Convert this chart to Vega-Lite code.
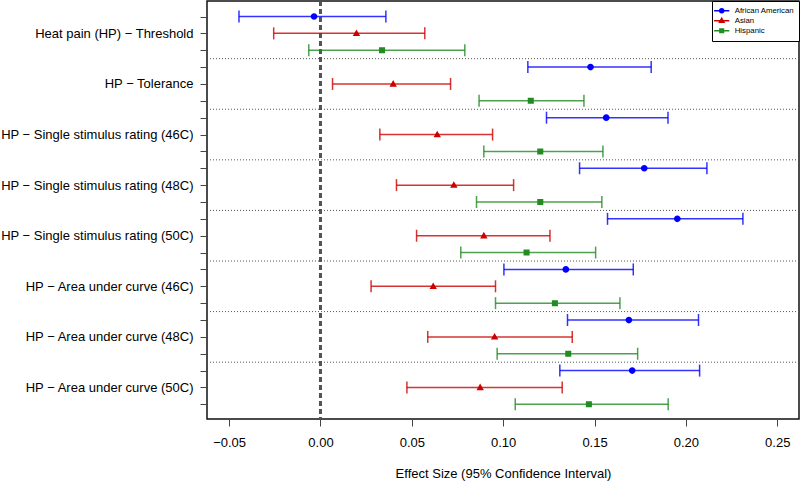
{
  "$schema": "https://vega.github.io/schema/vega-lite/v6.json",
  "width": 592,
  "height": 418,
  "autosize": {"type": "none"},
  "padding": {"left": 207, "top": 1, "right": 1, "bottom": 62},
  "config": {"view": {"stroke": "#111", "strokeWidth": 1.5}, "font": "Liberation Sans"},
  "datasets": {
    "est": [
      {"row": 1, "measure": "Heat pain (HP) − Threshold", "group": "African American", "est": -0.0035, "lo": -0.0446, "hi": 0.0358},
      {"row": 2, "measure": "Heat pain (HP) − Threshold", "group": "Asian", "est": 0.0197, "lo": -0.0256, "hi": 0.0571},
      {"row": 3, "measure": "Heat pain (HP) − Threshold", "group": "Hispanic", "est": 0.0337, "lo": -0.0064, "hi": 0.0790},
      {"row": 4, "measure": "HP − Tolerance", "group": "African American", "est": 0.1478, "lo": 0.1135, "hi": 0.1810},
      {"row": 5, "measure": "HP − Tolerance", "group": "Asian", "est": 0.0398, "lo": 0.0066, "hi": 0.0712},
      {"row": 6, "measure": "HP − Tolerance", "group": "Hispanic", "est": 0.1151, "lo": 0.0868, "hi": 0.1442},
      {"row": 7, "measure": "HP − Single stimulus rating (46C)", "group": "African American", "est": 0.1564, "lo": 0.1237, "hi": 0.1902},
      {"row": 8, "measure": "HP − Single stimulus rating (46C)", "group": "Asian", "est": 0.0639, "lo": 0.0325, "hi": 0.0942},
      {"row": 9, "measure": "HP − Single stimulus rating (46C)", "group": "Hispanic", "est": 0.1203, "lo": 0.0894, "hi": 0.1546},
      {"row": 10, "measure": "HP − Single stimulus rating (48C)", "group": "African American", "est": 0.1772, "lo": 0.1418, "hi": 0.2115},
      {"row": 11, "measure": "HP − Single stimulus rating (48C)", "group": "Asian", "est": 0.0730, "lo": 0.0416, "hi": 0.1057},
      {"row": 12, "measure": "HP − Single stimulus rating (48C)", "group": "Hispanic", "est": 0.1203, "lo": 0.0854, "hi": 0.1540},
      {"row": 13, "measure": "HP − Single stimulus rating (50C)", "group": "African American", "est": 0.1953, "lo": 0.1571, "hi": 0.2312},
      {"row": 14, "measure": "HP − Single stimulus rating (50C)", "group": "Asian", "est": 0.0894, "lo": 0.0526, "hi": 0.1256},
      {"row": 15, "measure": "HP − Single stimulus rating (50C)", "group": "Hispanic", "est": 0.1128, "lo": 0.0768, "hi": 0.1506},
      {"row": 16, "measure": "HP − Area under curve (46C)", "group": "African American", "est": 0.1343, "lo": 0.1004, "hi": 0.1712},
      {"row": 17, "measure": "HP − Area under curve (46C)", "group": "Asian", "est": 0.0617, "lo": 0.0277, "hi": 0.0958},
      {"row": 18, "measure": "HP − Area under curve (46C)", "group": "Hispanic", "est": 0.1283, "lo": 0.0958, "hi": 0.1639},
      {"row": 19, "measure": "HP − Area under curve (48C)", "group": "African American", "est": 0.1688, "lo": 0.1352, "hi": 0.2069},
      {"row": 20, "measure": "HP − Area under curve (48C)", "group": "Asian", "est": 0.0953, "lo": 0.0587, "hi": 0.1378},
      {"row": 21, "measure": "HP − Area under curve (48C)", "group": "Hispanic", "est": 0.1356, "lo": 0.0967, "hi": 0.1736},
      {"row": 22, "measure": "HP − Area under curve (50C)", "group": "African American", "est": 0.1706, "lo": 0.1310, "hi": 0.2075},
      {"row": 23, "measure": "HP − Area under curve (50C)", "group": "Asian", "est": 0.0874, "lo": 0.0473, "hi": 0.1323},
      {"row": 24, "measure": "HP − Area under curve (50C)", "group": "Hispanic", "est": 0.1469, "lo": 0.1066, "hi": 0.1903}
    ],
    "seps": [{"row": 3.5}, {"row": 6.5}, {"row": 9.5}, {"row": 12.5}, {"row": 15.5}, {"row": 18.5}, {"row": 21.5}]
  },
  "data": {"name": "est"},
  "layer": [
    {
      "data": {"name": "seps"},
      "mark": {"type": "rule", "strokeDash": [1, 2], "color": "#555", "strokeWidth": 1},
      "encoding": {
        "y": {
          "field": "row", "type": "quantitative",
          "scale": {"domain": [0.08, 24.87], "reverse": true, "nice": false, "zero": false},
          "axis": {
            "values": [1, 2, 3, 4, 5, 6, 7, 8, 9, 10, 11, 12, 13, 14, 15, 16, 17, 18, 19, 20, 21, 22, 23, 24],
            "tickCount": 30,
            "title": null, "domain": false, "grid": false, "tickSize": 7, "tickColor": "#444", "tickWidth": 1,
            "labelFontSize": 13, "labelColor": "#000", "labelPadding": 7, "labelOverlap": false, "labelFlush": false, "labelBound": false, "labelLimit": 400,
            "labelExpr": "['','','Heat pain (HP) − Threshold','','','HP − Tolerance','','','HP − Single stimulus rating (46C)','','','HP − Single stimulus rating (48C)','','','HP − Single stimulus rating (50C)','','','HP − Area under curve (46C)','','','HP − Area under curve (48C)','','','HP − Area under curve (50C)',''][datum.value]"
          }
        }
      }
    },
    {
      "mark": {"type": "rule", "strokeDash": [5, 3], "color": "#555", "strokeWidth": 1.3},
      "encoding": {
        "x": {
          "datum": 0, "type": "quantitative",
          "scale": {"domain": [-0.0621, 0.2619], "nice": false, "zero": false},
          "axis": {
            "values": [-0.05, 0, 0.05, 0.1, 0.15, 0.2, 0.25], "format": ".2f", "tickCount": 10,
            "title": "Effect Size (95% Confidence Interval)", "domain": false, "grid": false,
            "tickSize": 7, "tickColor": "#444", "labelFontSize": 13, "labelColor": "#000", "labelPadding": 10, "labelFlush": false,
            "titleFontSize": 13, "titleFontWeight": "normal", "titleColor": "#000", "titlePadding": 18
          }
        }
      }
    },
    {
      "mark": {"type": "rule", "strokeWidth": 1.5, "opacity": 0.8},
      "encoding": {
        "y": {"field": "row", "type": "quantitative"},
        "x": {"field": "lo", "type": "quantitative"},
        "x2": {"field": "hi"},
        "color": {"field": "group", "type": "nominal", "scale": {"domain": ["African American", "Asian", "Hispanic"], "range": ["#0000ff", "#cd0000", "#228b22"]}}
      }
    },
    {
      "mark": {"type": "point", "shape": "M0,-1L0,1", "size": 144, "filled": false, "strokeWidth": 1.5, "opacity": 0.8},
      "encoding": {
        "y": {"field": "row", "type": "quantitative"},
        "x": {"field": "lo", "type": "quantitative"},
        "color": {"field": "group", "type": "nominal"}
      }
    },
    {
      "mark": {"type": "point", "shape": "M0,-1L0,1", "size": 144, "filled": false, "strokeWidth": 1.5, "opacity": 0.8},
      "encoding": {
        "y": {"field": "row", "type": "quantitative"},
        "x": {"field": "hi", "type": "quantitative"},
        "color": {"field": "group", "type": "nominal"}
      }
    },
    {
      "mark": {"type": "point", "size": 180, "filled": true, "strokeWidth": 0, "opacity": 1},
      "encoding": {
        "y": {"field": "row", "type": "quantitative"},
        "x": {"field": "est", "type": "quantitative"},
        "color": {
          "field": "group", "type": "nominal",
          "legend": {
            "title": null, "orient": "top-right", "offset": 0, "padding": 4.7, "strokeColor": "#000", "fillColor": "#fff",
            "labelFontSize": 7.8, "labelColor": "#000", "symbolSize": 64, "rowPadding": -2, "labelOffset": 8, "cornerRadius": 0,
            "symbolOpacity": 1, "symbolStrokeWidth": 1.5,
            "encode": {"symbols": {"update": {"stroke": {"scale": "color", "field": "value"}, "strokeWidth": {"value": 1.5}, "opacity": {"value": 1}}}}
          }
        },
        "shape": {
          "field": "group", "type": "nominal",
          "scale": {"domain": ["African American", "Asian", "Hispanic"], "range": [
            "M-1.9,0H1.9M0.5,0A0.5,0.5 0 1,1 -0.5,0A0.5,0.5 0 1,1 0.5,0Z",
            "M-1.9,0H1.9M0,-0.58L0.55,0.4L-0.55,0.4Z",
            "M-1.9,0H1.9M-0.45,-0.45H0.45V0.45H-0.45Z"
          ]},
          "legend": {
            "title": null, "orient": "top-right", "offset": 0, "padding": 4.7, "strokeColor": "#000", "fillColor": "#fff",
            "labelFontSize": 7.8, "labelColor": "#000", "symbolSize": 64, "rowPadding": -2, "labelOffset": 8, "cornerRadius": 0,
            "symbolOpacity": 1, "symbolStrokeWidth": 1.5,
            "encode": {"symbols": {"update": {"stroke": {"scale": "color", "field": "value"}, "strokeWidth": {"value": 1.5}, "opacity": {"value": 1}}}}
          }
        }
      }
    }
  ]
}
